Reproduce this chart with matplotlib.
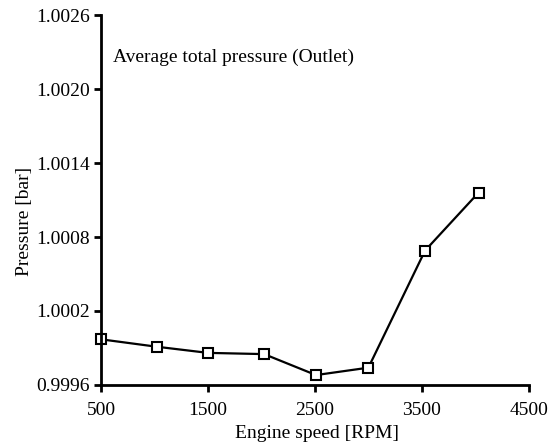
import matplotlib
matplotlib.use("Agg")
import matplotlib.pyplot as plt

# Outlet average total pressure vs engine speed
engine_speed = [500, 1020, 1500, 2025, 2510, 3000, 3530, 4030]
pressure = [0.99997, 0.99991, 0.99986, 0.99985, 0.99968, 0.99974, 1.00069, 1.00116]

x_ticks = [500, 1500, 2500, 3500, 4500]
y_ticks = [0.9996, 1.0002, 1.0008, 1.0014, 1.0020, 1.0026]
y_tick_labels = ["0.9996", "1.0002", "1.0008", "1.0014", "1.0020", "1.0026"]

plt.rcParams["font.family"] = ["Liberation Serif", "DejaVu Serif"]

fig = plt.figure(figsize=(5.52, 4.45), dpi=100)
ax = fig.add_axes([0.183, 0.135, 0.775, 0.831])

ax.plot(engine_speed, pressure, color="black", linewidth=1.6,
        marker="s", markersize=6.5, markerfacecolor="white",
        markeredgecolor="black", markeredgewidth=1.5, clip_on=False)

ax.set_xlim(500, 4500)
ax.set_ylim(0.9996, 1.0026)
ax.set_xticks(x_ticks)
ax.set_xticklabels([str(t) for t in x_ticks])
ax.set_yticks(y_ticks)
ax.set_yticklabels(y_tick_labels)

for side in ("top", "right"):
    ax.spines[side].set_visible(False)
for side in ("left", "bottom"):
    ax.spines[side].set_linewidth(2)

ax.tick_params(axis="both", direction="out", length=5, width=2, labelsize=14)
ax.tick_params(axis="x", pad=7)
ax.tick_params(axis="y", pad=3)

ax.set_xlabel("Engine speed [RPM]", fontsize=14)
ax.set_ylabel("Pressure [bar]", fontsize=14)
ax.xaxis.set_label_coords(0.505, -0.108)
ax.yaxis.set_label_coords(-0.16, 0.443)

ax.text(0.028, 0.886, "Average total pressure (Outlet)", transform=ax.transAxes,
        fontsize=14, ha="left", va="center")

fig.savefig("out.png", dpi=100, facecolor="white")
